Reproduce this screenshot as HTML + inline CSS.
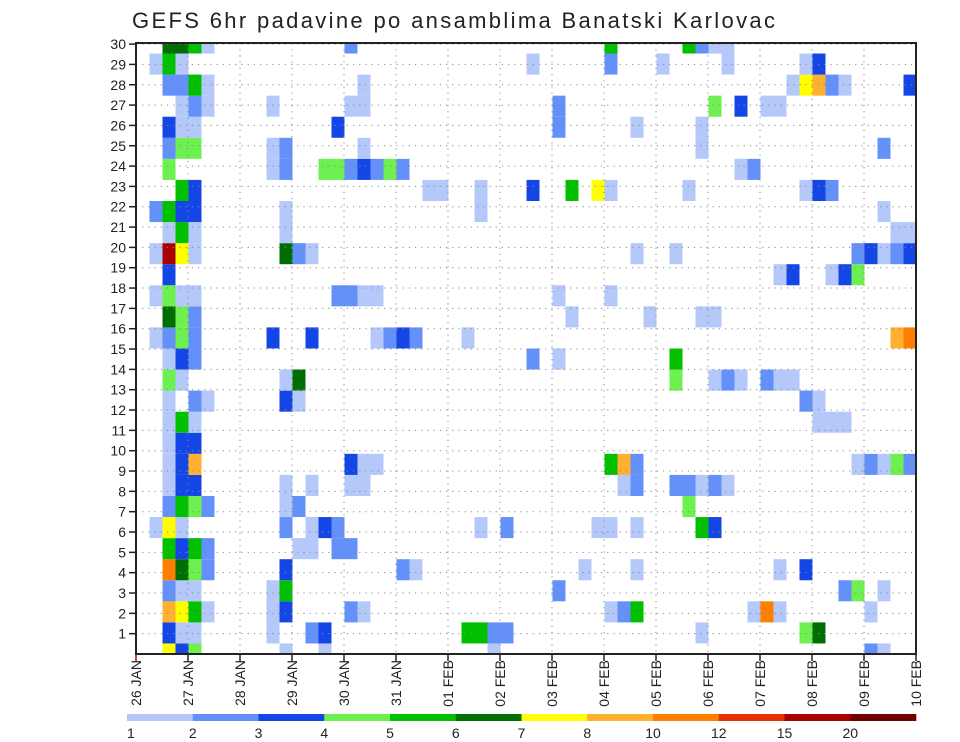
<!DOCTYPE html>
<html><head><meta charset="utf-8"><style>
html,body{margin:0;padding:0;background:#fff;}
svg{display:block;font-family:"Liberation Sans",sans-serif;}
</style></head><body>
<svg id="chart" width="960" height="742" viewBox="0 0 960 742" xmlns="http://www.w3.org/2000/svg">
<rect width="960" height="742" fill="#fff"/>
<text x="132" y="28" font-size="22" fill="#222" textLength="643" lengthAdjust="spacing">GEFS 6hr padavine po ansamblima Banatski Karlovac</text>
<g id="cells"></g>
<g id="grid"></g>
<g id="yaxis"></g>
<g id="xaxis"></g>
<rect x="136" y="43" width="780" height="611" fill="none" stroke="#222" stroke-width="2"/>
<g id="colorbar"></g>
</svg>
<script>
// ---- data ----
const dayLabels = ["26 JAN","27 JAN","28 JAN","29 JAN","30 JAN","31 JAN","01 FEB","02 FEB","03 FEB","04 FEB","05 FEB","06 FEB","07 FEB","08 FEB","09 FEB","10 FEB"];
const memberLabels = [1,2,3,4,5,6,7,8,9,10,11,12,13,14,15,16,17,18,19,20,21,22,23,24,25,26,27,28,29,30];
const levelLabels = ["1","2","3","4","5","6","7","8","10","12","15","20"];
const levelColors = ["#b4c8fa","#6490fa","#1446e6","#6ef050","#00c000","#006e00","#ffff00","#ffb030","#ff8000","#e63200","#aa0000","#700000"];
// member rows (index 0..29), each "timeStep:level" with level 1..12
const memberRows = [
"2:7 3:3 4:4 11:1 14:1 27:1 56:2 57:1",
"2:3 3:1 4:1 10:1 13:2 14:3 25:5 26:5 27:2 28:2 43:1 51:4 52:6",
"2:8 3:7 4:5 5:1 10:1 11:3 16:2 17:1 36:1 37:2 38:5 47:1 48:9 49:1 56:1",
"2:2 3:1 4:1 10:1 11:5 32:2 54:2 55:4 57:1",
"2:9 3:6 4:4 5:2 11:3 20:2 21:1 34:1 38:1 49:1 51:3",
"2:5 3:3 4:5 5:2 12:1 13:1 15:2 16:2",
"1:1 2:7 3:1 11:2 13:1 14:3 15:2 26:1 28:2 35:1 36:1 38:1 43:5 44:3",
"2:2 3:5 4:4 5:2 11:1 12:2 42:4",
"2:1 3:3 4:3 11:1 13:1 16:1 17:1 37:1 38:2 41:2 42:2 43:1 44:2 45:1",
"2:1 3:3 4:8 16:3 17:1 18:1 36:5 37:8 38:2 55:1 56:2 57:1 58:4 59:2",
"2:1 3:3 4:3",
"2:1 3:5 4:1 52:1 53:1 54:1",
"2:1 4:2 5:1 11:3 12:1 51:2 52:1",
"2:4 3:1 11:1 12:6 41:4 44:1 45:2 46:1 48:2 49:1 50:1",
"2:1 3:3 4:2 30:2 32:1 41:5",
"1:1 2:2 3:4 4:2 10:3 13:3 18:1 19:2 20:3 21:2 25:1 58:8 59:9",
"2:6 3:4 4:2 33:1 39:1 43:1 44:1",
"1:1 2:4 3:1 4:1 15:2 16:2 17:1 18:1 32:1 36:1",
"2:3 49:1 50:3 53:1 54:3 55:4",
"1:1 2:11 3:7 4:1 11:6 12:2 13:1 38:1 41:1 55:2 56:3 57:1 58:2 59:3",
"2:1 3:5 4:1 11:1 58:1 59:1",
"1:2 2:5 3:3 4:3 11:1 26:1 57:1",
"3:5 4:3 22:1 23:1 26:1 30:3 33:5 35:7 36:1 42:1 51:1 52:3 53:2",
"2:4 10:1 11:2 14:4 15:4 16:2 17:3 18:2 19:4 20:2 46:1 47:2",
"2:2 3:4 4:4 10:1 11:2 17:1 43:1 57:2",
"2:3 3:1 4:1 15:3 32:2 38:1 43:1",
"3:1 4:2 5:1 10:1 16:1 17:1 32:2 44:4 46:3 48:1 49:1",
"2:2 3:2 4:5 5:1 17:1 50:1 51:7 52:8 53:2 54:1 59:3",
"1:1 2:5 3:1 30:1 36:2 40:1 45:1 51:1 52:3",
"2:6 3:6 4:5 5:1 16:2 36:5 42:5 43:2 44:1 45:1"
];
// ---- scales ----
const NS="http://www.w3.org/2000/svg";
const X0=136, X1=916, Y0=43, Y1=654;
const stepW=(X1-X0)/60;
const rowH=21.07;
const labelH=20.33;
function xStep(i){return X0+0.5+stepW*i;}
function yMember(r){return Y1-r*rowH;}
function yLabel(k){return Y1-k*labelH;}
function xDay(d){return X0+d*52;}
function mk(tag,attrs,parent){const e=document.createElementNS(NS,tag);for(const k in attrs)e.setAttribute(k,attrs[k]);parent.appendChild(e);return e;}
// cells
const gc=document.getElementById('cells');
memberRows.forEach((row,r)=>{
  row.split(' ').forEach(tok=>{
    const [i,l]=tok.split(':').map(Number);
    let x=xStep(i), w=stepW; if(x+w>X1) w=X1-x;
    let yt=yMember(r)-rowH/2, yb=yMember(r)+rowH/2;
    yt=Math.max(yt,Y0); yb=Math.min(yb,Y1);
    const c=mk('rect',{x:x.toFixed(2),y:yt.toFixed(2),width:w.toFixed(2),height:(yb-yt).toFixed(2),fill:levelColors[l-1]},gc);
    
    
  });
});
// grid
const gg=document.getElementById('grid');
memberLabels.forEach(k=>{
  const y=yLabel(k);
  const ln=mk('line',{x1:X0,x2:X1,y1:y,y2:y,stroke:"#888","stroke-width":1,"stroke-dasharray":"1.2 5"},gg);
  
  
});
dayLabels.forEach((d,i)=>{
  if(i===0||i===dayLabels.length-1)return;
  const x=xDay(i);
  const ln=mk('line',{x1:x,x2:x,y1:Y0,y2:Y1,stroke:"#888","stroke-width":1,"stroke-dasharray":"1.2 5"},gg);
  
  
});
// y axis
const gy=document.getElementById('yaxis');
memberLabels.forEach(k=>{
  const y=yLabel(k);
  const t=mk('line',{x1:X0-7,x2:X0,y1:y,y2:y,stroke:"#222","stroke-width":1.5},gy);
  
  
  const tx=mk('text',{x:X0-10,y:y+5,"text-anchor":"end","font-size":14,fill:"#222"},gy);
  tx.textContent=k;
  
  
});
// x axis
const gx=document.getElementById('xaxis');
dayLabels.forEach((d,i)=>{
  const x=xDay(i);
  const t=mk('line',{x1:x,x2:x,y1:Y1,y2:Y1+7,stroke:i===0?"#c00":"#222","stroke-width":1.5},gx);
  
  
  const tx=mk('text',{x:x+5,y:Y1+6,"text-anchor":"end","font-size":14,fill:"#222",transform:`rotate(-90 ${x+5} ${Y1+6})`},gx);
  tx.textContent=d;
  
  
});
// colorbar
const gb=document.getElementById('colorbar');
const CB0=127, CB1=916, segW=(CB1-CB0)/levelColors.length;
levelColors.forEach((col,i)=>{
  const r=mk('rect',{x:CB0+i*segW,y:714,width:segW+0.3,height:7,fill:col},gb);
  
  
});
levelLabels.forEach((lab,i)=>{
  const tx=mk('text',{x:CB0+i*segW,y:738,"text-anchor":i===0?"start":"middle","font-size":14,fill:"#222"},gb);
  tx.textContent=lab;
  
  
});
</script>
</body></html>
